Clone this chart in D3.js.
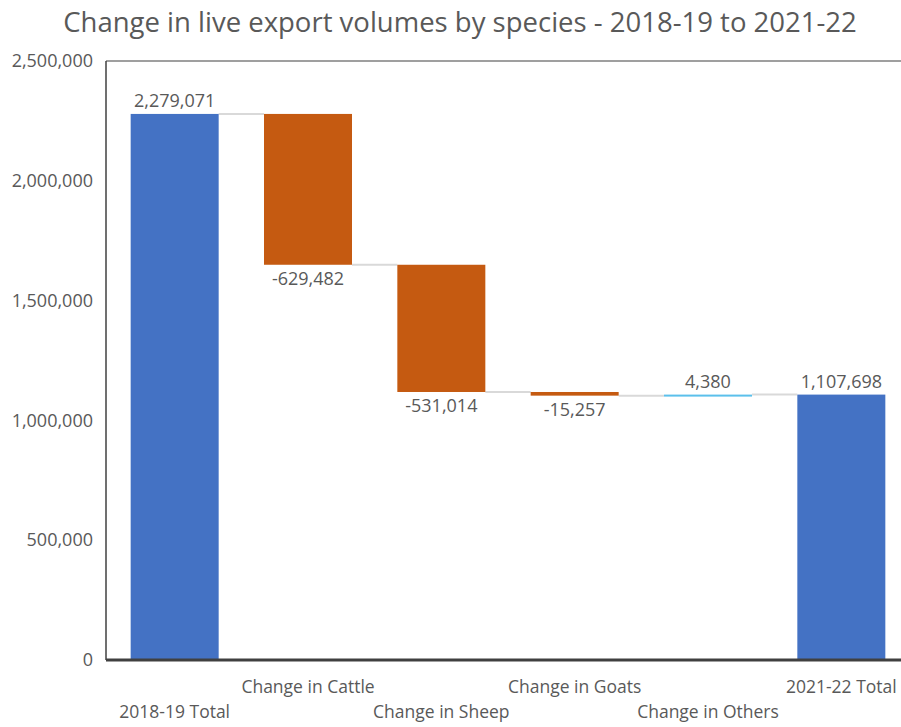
<!DOCTYPE html>
<html>
<head>
<meta charset="utf-8">
<script src="https://cdn.jsdelivr.net/npm/d3@7"></script>
<style>
body { margin: 0; background: #fff; }
text { font-family: "Open Sans", sans-serif; fill: #595959; }
</style>
</head>
<body>
<script>
var categories = ["2018-19 Total", "Change in Cattle", "Change in Sheep", "Change in Goats", "Change in Others", "2021-22 Total"];
var values = [2279071, -629482, -531014, -15257, 4380, 1107698];
var isTotal = [true, false, false, false, false, true];
var yTicks = [0, 500000, 1000000, 1500000, 2000000, 2500000];

var width = 901, height = 727;
var plotLeft = 106, plotRight = 906, plotTop = 61, plotBottom = 660;

var svg = d3.select("body").append("svg").attr("width", width).attr("height", height);

// running totals for waterfall
var steps = [];
var run = 0;
values.forEach(function (v, i) {
    var start, end;
    if (isTotal[i]) { start = 0; end = v; run = v; }
    else { start = run; end = run + v; run = end; }
    steps.push({ cat: categories[i], v: v, start: start, end: end, total: isTotal[i] });
});

var x = d3.scaleBand().domain(categories).range([plotLeft + 2, plotRight + 2]).paddingInner(0.34).paddingOuter(0.17);
var y = d3.scaleLinear().domain([0, 2500000]).range([plotBottom, plotTop]);

function fmt(v) {
    return d3.format(",")(v).replace("\u2212", "-");
}

function give_color(d) {
    if (d.total) return "#4472C4";
    return d.v < 0 ? "#C55A11" : "#5BC0EB";
}

svg.append("text")
    .attr("x", 460).attr("y", 32)
    .attr("text-anchor", "middle")
    .style("font-size", "27.5px")
    .text("Change in live export volumes by species - 2018-19 to 2021-22");

// frame
svg.append("line").attr("x1", plotLeft).attr("x2", plotRight).attr("y1", plotTop).attr("y2", plotTop)
    .attr("stroke", "#404040").attr("stroke-width", 1.2);
svg.append("line").attr("x1", plotLeft).attr("x2", plotLeft).attr("y1", plotTop).attr("y2", plotBottom)
    .attr("stroke", "#404040").attr("stroke-width", 1.5);

// y axis
var yAxis = svg.append("g").attr("transform", "translate(" + plotLeft + ",0)")
    .call(d3.axisLeft(y).tickValues(yTicks).tickSize(0).tickPadding(13).tickFormat(fmt));
yAxis.select(".domain").remove();
yAxis.selectAll("text").style("font-size", "18px").style("fill", "#595959").style("font-family", "Open Sans, sans-serif");

// connectors
svg.selectAll(".conn")
    .data(steps.slice(0, steps.length - 1))
    .enter()
    .append("line")
    .attr("x1", function (d) { return x(d.cat) + x.bandwidth(); })
    .attr("x2", function (d, i) { return x(categories[i + 1]); })
    .attr("y1", function (d) { return y(d.end); })
    .attr("y2", function (d) { return y(d.end); })
    .attr("stroke", "#d9d9d9").attr("stroke-width", 2);

// bars
svg.selectAll("rect.bar")
    .data(steps)
    .enter()
    .append("rect")
    .attr("class", "bar")
    .attr("x", function (d) { return x(d.cat); })
    .attr("width", x.bandwidth())
    .attr("y", function (d) { return y(Math.max(d.start, d.end)); })
    .attr("height", function (d) { return Math.max(2, Math.abs(y(d.start) - y(d.end))); })
    .attr("fill", give_color);

// data labels
svg.selectAll(".lbl")
    .data(steps)
    .enter()
    .append("text")
    .attr("class", "lbl")
    .attr("x", function (d) { return x(d.cat) + x.bandwidth() / 2; })
    .attr("y", function (d) {
        if (d.v < 0) return y(d.end) + 20;
        return y(d.end) - 7;
    })
    .attr("text-anchor", "middle")
    .style("font-size", "18px")
    .text(function (d) { return fmt(d.v); });

// x axis line
svg.append("line").attr("x1", plotLeft).attr("x2", plotRight).attr("y1", plotBottom).attr("y2", plotBottom)
    .attr("stroke", "#404040").attr("stroke-width", 3);

// staggered category labels
svg.selectAll(".xl")
    .data(categories)
    .enter()
    .append("text")
    .attr("class", "xl")
    .attr("x", function (d) { return x(d) + x.bandwidth() / 2; })
    .attr("y", function (d, i) { return i % 2 == 0 ? 718 : 693; })
    .attr("text-anchor", "middle")
    .style("font-size", "17.5px")
    .text(function (d) { return d; });
</script>
</body>
</html>
